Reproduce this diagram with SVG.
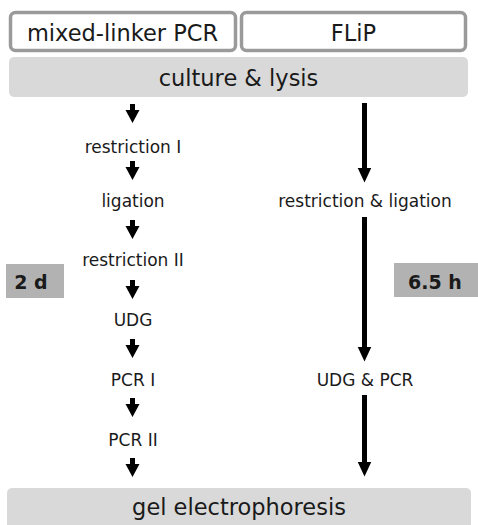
<svg xmlns="http://www.w3.org/2000/svg" width="478" height="525" viewBox="0 0 478 525">
<defs>
<style>
text{font-family:"DejaVu Sans","Liberation Sans",sans-serif;fill:#1a1a1a;text-anchor:middle}
.hdr{fill:#fff;stroke:#9a9a9a;stroke-width:3.5}
.band{fill:#d9d9d9}
.time{fill:#b2b2b2}
.big{font-size:22.5px}
.small{font-size:17px}
.bold{font-weight:bold;font-size:19px}
.conn{stroke:#000;stroke-width:5;fill:none}
</style>
<path id="sa" d="M-2.5,0 H2.5 V6 H7 L0,19 L-7,6 H-2.5 Z" fill="#000"/>
<marker id="ah" markerUnits="userSpaceOnUse" markerWidth="16" markerHeight="16" viewBox="0 0 16 16" refX="0.5" refY="8" orient="auto">
<path d="M0,1 L15,8 L0,15 Z" fill="#000"/>
</marker>
</defs>
<g id="mixed-linker">
<rect class="hdr" x="10.5" y="12.5" width="225" height="38" rx="5"/>
<text class="big" x="122.5" y="41">mixed-linker PCR</text>
</g>
<g id="flip">
<rect class="hdr" x="241.5" y="12.5" width="224" height="38" rx="5"/>
<text class="big" x="353.5" y="41">FLiP</text>
</g>
<g id="culture">
<rect class="band" x="9" y="57" width="459" height="40" rx="5"/>
<text class="big" x="238.5" y="86">culture &amp; lysis</text>
</g>
<g id="restriction1"><text class="small" x="133" y="153">restriction I</text></g>
<g id="ligation"><text class="small" x="133" y="207">ligation</text></g>
<g id="restriction2"><text class="small" x="133" y="266">restriction II</text></g>
<g id="udg"><text class="small" x="133" y="326">UDG</text></g>
<g id="pcr1"><text class="small" x="133" y="386">PCR I</text></g>
<g id="pcr2"><text class="small" x="133" y="446">PCR II</text></g>
<g id="restr-lig"><text class="small" x="365" y="207">restriction &amp; ligation</text></g>
<g id="udg-pcr"><text class="small" x="365" y="386">UDG &amp; PCR</text></g>
<g id="t2d">
<rect class="time" x="6" y="264" width="58" height="34"/>
<text class="bold" x="31" y="289">2 d</text>
</g>
<g id="t65h">
<rect class="time" x="394" y="263" width="84" height="34"/>
<text class="bold" x="435" y="289">6.5 h</text>
</g>
<g id="gel">
<rect class="band" x="7" y="488" width="464" height="42" rx="5"/>
<text class="big" x="239" y="515">gel electrophoresis</text>
</g>
<g id="connectors">
<use href="#sa" x="132.5" y="104"/>
<use href="#sa" x="132.5" y="161"/>
<use href="#sa" x="132.5" y="220"/>
<use href="#sa" x="132.5" y="280"/>
<use href="#sa" x="132.5" y="339"/>
<use href="#sa" x="132.5" y="398"/>
<use href="#sa" x="132.5" y="458"/>
<line class="conn" x1="364.5" y1="103" x2="364.5" y2="168" marker-end="url(#ah)"/>
<line class="conn" x1="364.5" y1="217" x2="364.5" y2="347" marker-end="url(#ah)"/>
<line class="conn" x1="364.5" y1="395" x2="364.5" y2="462" marker-end="url(#ah)"/>
</g>
</svg>
